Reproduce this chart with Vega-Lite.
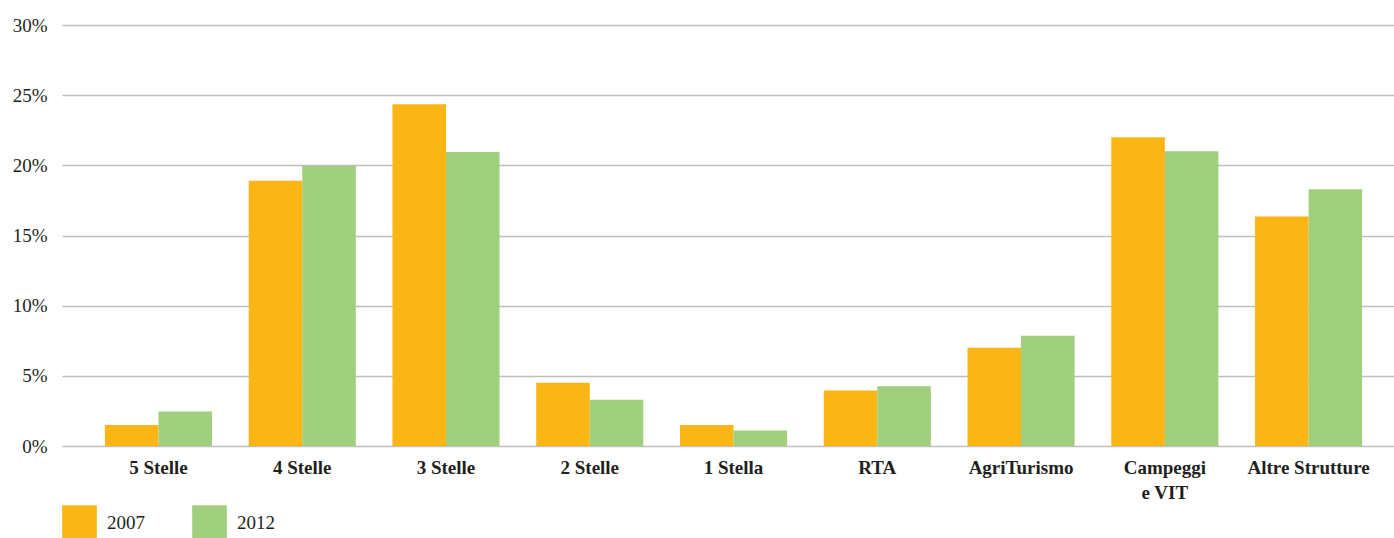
{
  "$schema": "https://vega.github.io/schema/vega-lite/v6.json",
  "width": 1332,
  "height": 421,
  "autosize": {"type": "none"},
  "padding": {"left": 62, "top": 25, "right": 0, "bottom": 92},
  "background": "white",
  "config": {
    "view": {"stroke": null},
    "font": "Liberation Serif"
  },
  "data": {
    "values": [
      {"cat": "5 Stelle", "year": "2007", "v": 1.5},
      {"cat": "5 Stelle", "year": "2012", "v": 2.45},
      {"cat": "4 Stelle", "year": "2007", "v": 18.9},
      {"cat": "4 Stelle", "year": "2012", "v": 19.95},
      {"cat": "3 Stelle", "year": "2007", "v": 24.35},
      {"cat": "3 Stelle", "year": "2012", "v": 20.95},
      {"cat": "2 Stelle", "year": "2007", "v": 4.5},
      {"cat": "2 Stelle", "year": "2012", "v": 3.3},
      {"cat": "1 Stella", "year": "2007", "v": 1.5},
      {"cat": "1 Stella", "year": "2012", "v": 1.1},
      {"cat": "RTA", "year": "2007", "v": 3.95},
      {"cat": "RTA", "year": "2012", "v": 4.25},
      {"cat": "AgriTurismo", "year": "2007", "v": 7.0},
      {"cat": "AgriTurismo", "year": "2012", "v": 7.85},
      {"cat": "Campeggi e VIT", "year": "2007", "v": 22.0},
      {"cat": "Campeggi e VIT", "year": "2012", "v": 21.0},
      {"cat": "Altre Strutture", "year": "2007", "v": 16.35},
      {"cat": "Altre Strutture", "year": "2012", "v": 18.3}
    ]
  },
  "mark": {"type": "bar"},
  "encoding": {
    "x": {
      "field": "cat",
      "type": "nominal",
      "sort": null,
      "scale": {"paddingInner": 0.255, "paddingOuter": 0.26, "align": 0.574},
      "axis": {
        "title": null,
        "labelAngle": 0,
        "labelFont": "Liberation Serif",
        "labelFontWeight": "bold",
        "labelFontSize": 19,
        "labelColor": "#231F20",
        "labelPadding": 12,
        "labelLineHeight": 25,
        "labelExpr": "datum.label == 'Campeggi e VIT' ? ['Campeggi', 'e VIT'] : datum.label",
        "ticks": false,
        "domain": false,
        "grid": false
      }
    },
    "xOffset": {"field": "year", "type": "nominal"},
    "y": {
      "field": "v",
      "type": "quantitative",
      "scale": {"domain": [0, 30], "nice": false},
      "axis": {
        "title": null,
        "values": [0, 5, 10, 15, 20, 25, 30],
        "labelExpr": "datum.value + '%'",
        "labelFont": "Liberation Serif",
        "labelFontSize": 19,
        "labelColor": "#231F20",
        "labelPadding": 15,
        "ticks": false,
        "domain": false,
        "grid": true,
        "gridColor": "#BFBFBF",
        "gridWidth": 1.5
      }
    },
    "color": {
      "field": "year",
      "type": "nominal",
      "scale": {"domain": ["2007", "2012"], "range": ["#FBB615", "#A0CF7D"]},
      "legend": {
        "title": null,
        "orient": "none",
        "legendX": 0,
        "legendY": 480,
        "direction": "horizontal",
        "padding": 0,
        "symbolType": "square",
        "symbolSize": 1200,
        "symbolStrokeWidth": 0,
        "symbolOpacity": 1,
        "labelFont": "Liberation Serif",
        "labelFontSize": 19,
        "labelColor": "#231F20",
        "labelOffset": 10,
        "columnPadding": 47
      }
    }
  }
}
